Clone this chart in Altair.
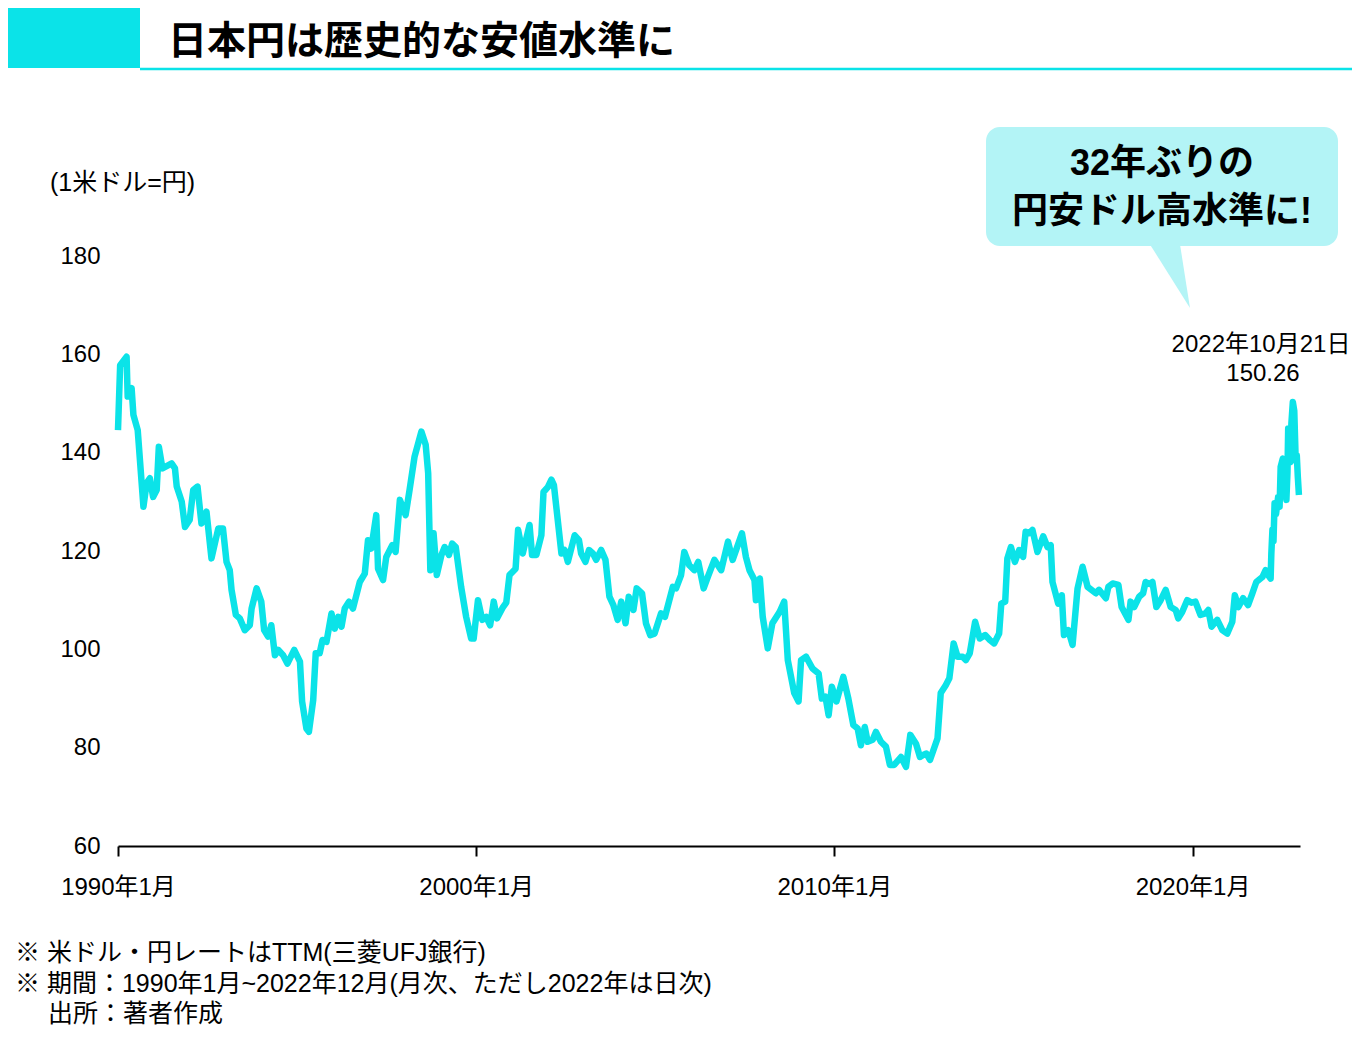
import altair as alt
import pandas as pd

# ---- data (decimal year, yen per dollar) ----
years = [
    1990.00, 1990.06, 1990.24, 1990.27, 1990.38, 1990.43, 1990.55, 1990.71, 1990.80, 1990.89,
    1990.98, 1991.08, 1991.14, 1991.24, 1991.50, 1991.59, 1991.64, 1991.78, 1991.87, 1992.00,
    1992.10, 1992.22, 1992.33, 1992.47, 1992.61, 1992.80, 1992.93, 1993.03, 1993.12, 1993.17,
    1993.29, 1993.40, 1993.54, 1993.68, 1993.73, 1993.87, 1994.00, 1994.08, 1994.19, 1994.28,
    1994.38, 1994.47, 1994.61, 1994.73, 1994.92, 1995.08, 1995.14, 1995.26, 1995.33, 1995.45,
    1995.52, 1995.63, 1995.71, 1995.82, 1995.96, 1996.05, 1996.15, 1996.24, 1996.33, 1996.45,
    1996.56, 1996.75, 1996.89, 1996.98, 1997.07, 1997.21, 1997.26, 1997.40, 1997.49, 1997.66,
    1997.75, 1997.87, 1998.03, 1998.14, 1998.28, 1998.47, 1998.59, 1998.66, 1998.72, 1998.81,
    1998.90, 1999.03, 1999.12, 1999.24, 1999.33, 1999.43, 1999.58, 1999.72, 1999.86, 1999.93,
    2000.05, 2000.17, 2000.28, 2000.39, 2000.49, 2000.58, 2000.75, 2000.84, 2000.93, 2001.10,
    2001.17, 2001.30, 2001.49, 2001.56, 2001.68, 2001.82, 2001.88, 2002.00, 2002.10, 2002.17,
    2002.38, 2002.47, 2002.56, 2002.75, 2002.87, 2002.93, 2003.05, 2003.15, 2003.26, 2003.35,
    2003.49, 2003.61, 2003.72, 2003.83, 2003.95, 2004.05, 2004.17, 2004.26, 2004.39, 2004.48,
    2004.63, 2004.74, 2004.86, 2004.98, 2005.16, 2005.27, 2005.49, 2005.58, 2005.72, 2005.81,
    2005.95, 2006.09, 2006.20, 2006.35, 2006.47, 2006.65, 2006.84, 2007.03, 2007.16, 2007.42,
    2007.53, 2007.63, 2007.77, 2007.81, 2007.92, 2008.00, 2008.14, 2008.27, 2008.47, 2008.60,
    2008.70, 2008.88, 2009.00, 2009.07, 2009.21, 2009.39, 2009.56, 2009.65, 2009.75, 2009.84,
    2009.93, 2010.06, 2010.25, 2010.39, 2010.53, 2010.65, 2010.74, 2010.85, 2010.93, 2011.07,
    2011.16, 2011.30, 2011.44, 2011.55, 2011.67, 2011.86, 2012.00, 2012.12, 2012.28, 2012.39,
    2012.48, 2012.57, 2012.67, 2012.88, 2012.97, 2013.11, 2013.21, 2013.33, 2013.44, 2013.58,
    2013.67, 2013.78, 2013.93, 2014.06, 2014.21, 2014.34, 2014.46, 2014.60, 2014.66, 2014.77,
    2014.83, 2014.93, 2015.04, 2015.16, 2015.27, 2015.34, 2015.44, 2015.53, 2015.67, 2015.83,
    2015.95, 2016.04, 2016.09, 2016.25, 2016.35, 2016.41, 2016.53, 2016.65, 2016.79, 2016.93,
    2017.07, 2017.30, 2017.39, 2017.58, 2017.65, 2017.77, 2017.93, 2018.02, 2018.21, 2018.27,
    2018.37, 2018.51, 2018.62, 2018.69, 2018.79, 2018.88, 2018.99, 2019.11, 2019.25, 2019.39,
    2019.53, 2019.60, 2019.71, 2019.85, 2019.97, 2020.08, 2020.22, 2020.36, 2020.44, 2020.53,
    2020.69, 2020.83, 2020.97, 2021.11, 2021.18, 2021.28, 2021.41, 2021.55, 2021.67, 2021.78,
    2021.95, 2022.04, 2022.12, 2022.18, 2022.20, 2022.23, 2022.26, 2022.29, 2022.33, 2022.39,
    2022.43, 2022.46, 2022.52, 2022.56, 2022.62, 2022.65, 2022.67, 2022.71, 2022.74, 2022.76,
    2022.80, 2022.84, 2022.88, 2022.91, 2022.94, 2022.97,
]
rates = [
    144.6, 157.8, 159.5, 151.4, 153.1, 147.7, 144.6, 129.0, 133.8, 134.8,
    131.0, 132.4, 141.2, 136.8, 137.8, 136.8, 133.1, 130.0, 124.9, 126.3,
    132.4, 133.1, 125.6, 128.0, 118.5, 124.6, 124.6, 117.8, 116.1, 112.1,
    107.0, 106.3, 103.9, 104.9, 108.3, 112.4, 109.7, 103.9, 102.6, 104.9,
    98.8, 99.9, 98.8, 97.1, 99.9, 97.5, 89.4, 83.9, 83.2, 89.7,
    99.2, 99.2, 101.9, 101.5, 107.3, 104.2, 106.6, 104.6, 108.3, 109.7,
    108.3, 113.7, 115.4, 122.2, 120.5, 127.3, 116.4, 114.1, 118.8, 121.2,
    119.8, 130.4, 127.3, 132.4, 139.2, 144.3, 141.6, 135.8, 116.1, 123.6,
    115.1, 119.2, 120.8, 119.2, 121.5, 120.8, 112.7, 106.6, 102.2, 102.2,
    110.0, 106.0, 106.6, 104.9, 109.7, 106.3, 108.6, 109.5, 115.1, 116.4,
    124.3, 119.5, 125.3, 119.2, 119.2, 123.2, 132.0, 133.0, 134.5, 133.4,
    119.5, 120.2, 117.8, 123.2, 122.2, 119.5, 117.8, 120.2, 119.5, 118.2,
    120.2, 118.2, 110.7, 109.0, 106.0, 109.7, 105.3, 110.7, 108.0, 112.4,
    111.4, 105.3, 102.9, 103.2, 107.3, 106.6, 112.7, 112.4, 115.1, 119.8,
    117.1, 116.1, 117.8, 112.4, 114.8, 118.2, 116.1, 121.9, 118.2, 123.6,
    118.8, 116.1, 114.1, 110.0, 114.4, 106.6, 100.2, 105.3, 107.6, 109.7,
    97.8, 91.1, 89.4, 97.8, 98.5, 96.1, 95.1, 90.0, 90.4, 86.6,
    92.4, 89.4, 94.4, 90.0, 84.6, 83.9, 80.5, 84.2, 81.2, 81.6,
    83.2, 81.2, 80.2, 76.5, 76.5, 78.1, 76.1, 82.6, 80.8, 78.1,
    78.5, 78.8, 77.5, 81.9, 91.1, 92.7, 94.1, 101.2, 98.5, 98.5,
    97.8, 99.2, 105.6, 102.2, 102.9, 101.9, 101.2, 103.2, 109.3, 109.7,
    118.5, 120.8, 117.8, 120.2, 118.8, 123.9, 123.6, 124.3, 119.8, 123.0,
    120.8, 121.2, 113.7, 109.3, 111.0, 102.9, 103.9, 100.9, 112.4, 116.8,
    112.7, 111.4, 112.1, 110.4, 112.7, 113.4, 113.1, 108.6, 106.0, 109.7,
    108.6, 110.7, 111.4, 113.7, 113.3, 113.7, 108.6, 110.0, 112.1, 108.6,
    108.0, 106.3, 107.6, 110.0, 109.5, 109.7, 107.0, 107.3, 108.0, 104.6,
    106.0, 103.9, 103.2, 105.6, 111.0, 108.6, 110.4, 109.0, 111.4, 113.7,
    114.7, 116.1, 115.0, 114.4, 119.5, 124.3, 122.0, 129.7, 127.5, 131.0,
    129.0, 137.1, 138.8, 134.5, 130.4, 136.0, 144.9, 139.0, 138.1, 146.0,
    150.3, 148.5, 138.5, 139.5, 135.0, 131.4,
]

y_ticks = [60, 80, 100, 120, 140, 160, 180]
x_ticks = [1990, 2000, 2010, 2020]

title_text = "日本円は歴史的な安値水準に"
unit_text = "(1米ドル=円)"
callout_lines = ["32年ぶりの", "円安ドル高水準に!"]
peak_date = "2022年10月21日"
peak_value = "150.26"
notes = [
    "※ 米ドル・円レートはTTM(三菱UFJ銀行)",
    "※ 期間：1990年1月~2022年12月(月次、ただし2022年は日次)",
    "出所：著者作成",
]

CYAN = "#0BE3E8"
LIGHT = "#B3F4F6"
JP = "Noto Sans CJK JP"
LAT = "Liberation Sans, Noto Sans CJK JP"

W, H = 1182, 590

df = pd.DataFrame({"year": years, "rate": rates})

x = alt.X(
    "year:Q",
    scale=alt.Scale(domain=[1990, 2023], nice=False, zero=False),
    axis=alt.Axis(
        values=x_ticks, labelExpr="datum.value + '年1月'", title=None, grid=False,
        domainColor="black", domainWidth=2, tickColor="black", tickWidth=2, tickSize=10,
        labelFont=LAT, labelFontSize=24, labelColor="black", labelPadding=19,
        labelFlush=False, labelOverlap=False,
    ),
)
y = alt.Y(
    "rate:Q",
    scale=alt.Scale(domain=[60, 180], nice=False, zero=False),
    axis=alt.Axis(
        values=y_ticks, title=None, grid=False, domain=False, ticks=False,
        labelFont=LAT, labelFontSize=24, labelColor="black", labelPadding=18,
    ),
)

line = alt.Chart(df).mark_line(color=CYAN, strokeWidth=6.5, strokeJoin="round").encode(x=x, y=y)


def one(t):
    return pd.DataFrame({"t": [t]})


def text_layer(t, px, py, size, font=LAT, weight="normal", align="left"):
    return alt.Chart(one(t)).mark_text(
        font=font, fontSize=size, fontWeight=weight, align=align, baseline="middle", color="black"
    ).encode(text="t:N", x=alt.value(px), y=alt.value(py))


# title bar
title_block = alt.Chart(one("a")).mark_rect(color=CYAN).encode(
    x=alt.value(-110), x2=alt.value(22), y=alt.value(-248), y2=alt.value(-188)
)
title_rule = alt.Chart(one("b")).mark_rule(color=CYAN, strokeWidth=2.5).encode(
    x=alt.value(22), x2=alt.value(1240), y=alt.value(-187)
)
title = text_layer(title_text, 50, -214, 39, font=JP, weight="bold")

unit = text_layer(unit_text, -68, -73, 25, font=LAT)

# callout bubble
bubble = alt.Chart(one("c")).mark_rect(color=LIGHT, cornerRadius=14).encode(
    x=alt.value(868), x2=alt.value(1220), y=alt.value(-129), y2=alt.value(-10)
)
pointer = alt.Chart(one("d")).mark_point(
    shape="M -0.645 -1.05 L 0.323 -1.05 L 0.645 1 Z", size=3844, filled=True,
    color=LIGHT, opacity=1, strokeWidth=0,
).encode(x=alt.value(1052), y=alt.value(21))
call1 = text_layer(callout_lines[0], 1044, -92, 36, weight="bold", align="center")
call2 = text_layer(callout_lines[1], 1044, -44, 36, weight="bold", align="center")

peak1 = text_layer(peak_date, 1143, 89, 24, align="center")
peak2 = text_layer(peak_value, 1145, 118, 24, align="center")

note1 = text_layer(notes[0], -103, 697, 25)
note2 = text_layer(notes[1], -103, 728, 25)
note3 = text_layer(notes[2], -70, 758, 25)

chart = alt.layer(
    line, title_block, title_rule, title, unit, bubble, pointer, call1, call2,
    peak1, peak2, note1, note2, note3,
).properties(
    width=W, height=H,
    padding={"left": 110, "top": 248, "right": 52, "bottom": 186},
    autosize=alt.AutoSizeParams(type="none"),
    background="white",
).configure_view(strokeWidth=0)

chart.save("out.html", embed_options={"renderer": "svg", "actions": False})
